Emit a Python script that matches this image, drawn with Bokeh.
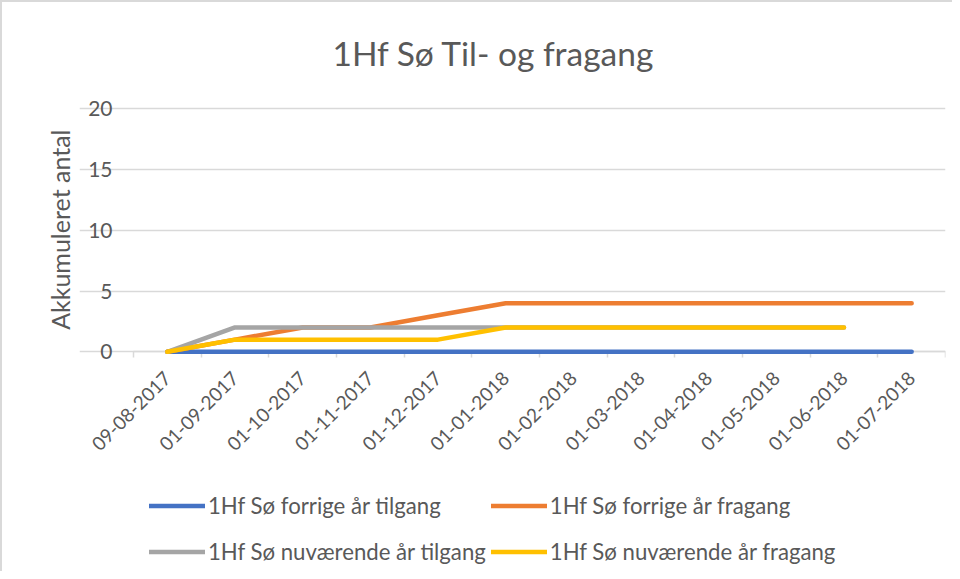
import math
from bokeh.plotting import figure
from bokeh.models import (FixedTicker, Legend, LegendItem, Range1d, Title)
from bokeh.embed import file_html
from bokeh.resources import INLINE

dates = ["09-08-2017", "01-09-2017", "01-10-2017", "01-11-2017", "01-12-2017",
         "01-01-2018", "01-02-2018", "01-03-2018", "01-04-2018", "01-05-2018",
         "01-06-2018", "01-07-2018"]
forrige_tilgang = [0, 0, 0, 0, 0, 0, 0, 0, 0, 0, 0, 0]
forrige_fragang = [0, 1, 2, 2, 3, 4, 4, 4, 4, 4, 4, 4]
nu_tilgang = [0, 2, 2, 2, 2, 2, 2, 2, 2, 2, 2]
nu_fragang = [0, 1, 1, 1, 1, 2, 2, 2, 2, 2, 2]
y_ticks = [0, 5, 10, 15, 20]

series = [
    ("1Hf Sø forrige år tilgang", forrige_tilgang, "#4472C4"),
    ("1Hf Sø forrige år fragang", forrige_fragang, "#ED7D31"),
    ("1Hf Sø nuværende år tilgang", nu_tilgang, "#A5A5A5"),
    ("1Hf Sø nuværende år fragang", nu_fragang, "#FFC000"),
]

FONT = "Lato"
TXT = "#595959"
n = len(dates)

# The frame is made larger than the plotted area so the rotated category
# labels and the legend can be drawn inside it; axes are pinned to the data.
p = figure(width=952, height=571, output_backend="svg", toolbar_location=None,
           x_range=Range1d(-1.298, n - 0.5), y_range=Range1d(-18.25, 22))
p.min_border_left = 77
p.min_border_right = 9
p.min_border_top = 82
p.min_border_bottom = 0
p.outline_line_color = None
p.styles = {"border-left": "2px solid #D9D9D9", "border-top": "2px solid #D9D9D9",
            "box-sizing": "border-box"}

t = Title(text="1Hf Sø Til- og fragang", align="left", text_font=FONT,
          text_font_size="33.5px", text_font_style="normal", text_color=TXT,
          standoff=23, offset=253)
p.add_layout(t, "above")

items = []
for name, vals, col in series:
    xs = list(range(len(vals)))
    r = p.line(xs, vals, line_color=col, line_width=4.5, line_cap="round",
               line_join="round")
    items.append(LegendItem(label=name, renderers=[r]))

# x axis (categories)
p.xaxis.fixed_location = 0
p.xaxis.bounds = (-0.5, n - 0.5)
p.xaxis.level = "underlay"
p.xaxis.ticker = FixedTicker(ticks=list(range(n)),
                             minor_ticks=[i - 0.5 for i in range(n + 1)])
p.xaxis.major_label_overrides = {i: d for i, d in enumerate(dates)}
p.xaxis.major_label_orientation = math.pi / 4
p.xaxis.major_tick_line_color = None
p.xaxis.major_tick_out = 0
p.xaxis.major_tick_in = 0
p.xaxis.minor_tick_line_color = "#D9D9D9"
p.xaxis.minor_tick_line_width = 1.5
p.xaxis.minor_tick_out = 6
p.xaxis.minor_tick_in = 0
p.xaxis.axis_line_color = "#D9D9D9"
p.xaxis.axis_line_width = 1.5
p.xaxis.major_label_text_font = FONT
p.xaxis.major_label_text_font_size = "19px"
p.xaxis.major_label_text_color = TXT
p.xaxis.major_label_standoff = 17
p.xgrid.grid_line_color = None

# y axis (values)
p.yaxis.fixed_location = -0.5
p.yaxis.ticker = FixedTicker(ticks=y_ticks)
p.yaxis.axis_line_color = None
p.yaxis.major_tick_line_color = None
p.yaxis.major_tick_out = 0
p.yaxis.major_tick_in = 0
p.yaxis.minor_tick_line_color = None
p.yaxis.major_label_text_font = FONT
p.yaxis.major_label_text_font_size = "21px"
p.yaxis.major_label_text_color = TXT
p.yaxis.major_label_standoff = 21
p.ygrid.grid_line_color = "#D9D9D9"
p.ygrid.grid_line_width = 1.5
p.ygrid.bounds = (-0.5, n - 0.5)

ylab = Title(text="Akkumuleret antal", align="right", text_font=FONT,
             text_font_size="25px", text_font_style="normal", text_color=TXT,
             standoff=9, offset=45)
p.add_layout(ylab, "left")

legend = Legend(items=items, ncols=2, orientation="horizontal",
                label_text_font=FONT, label_text_font_size="22.2px",
                label_text_color=TXT, glyph_width=56, glyph_height=41,
                label_height=41, label_standoff=3, spacing=5,
                border_line_color=None, background_fill_alpha=0,
                location=(70, 1.5), margin=0, padding=0)
p.add_layout(legend, "center")

open("out.html", "w").write(file_html(p, INLINE))
